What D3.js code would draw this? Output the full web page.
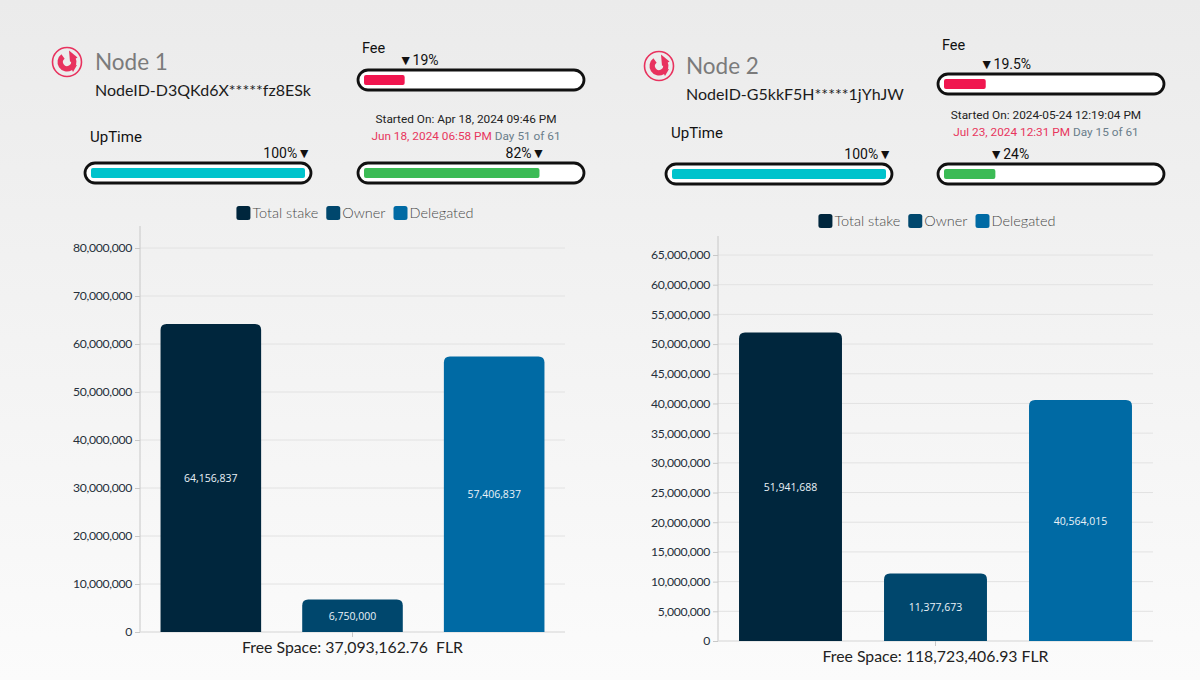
<!DOCTYPE html>
<html><head><meta charset="utf-8">
<script src="https://cdn.jsdelivr.net/npm/d3@7"></script>
<style>
html,body{margin:0;padding:0;background:#f0f0f0;}
svg{display:block;}
text{white-space:pre;}
</style></head>
<body>
<svg id="c" width="1200" height="680"></svg>
<script>
// ---- data ----
const categories = ["Total stake", "Owner", "Delegated"];
const node1Values = [64156837, 6750000, 57406837];
const node2Values = [51941688, 11377673, 40564015];
const node1Ticks = [0,10000000,20000000,30000000,40000000,50000000,60000000,70000000,80000000];
const node2Ticks = [0,5000000,10000000,15000000,20000000,25000000,30000000,35000000,40000000,45000000,50000000,55000000,60000000,65000000];
const nodeNames = ["Node 1", "Node 2"];
const nodeIds = ["NodeID-D3QKd6X*****fz8ESk", "NodeID-G5kkF5H*****1jYhJW"];
const feeValues = [19, 19.5];
const feeLabels = ["19%", "19.5%"];
const uptimeValues = [100, 100];
const progressValues = [82, 24];
const startedOn = ["Started On: Apr 18, 2024 09:46 PM", "Started On: 2024-05-24 12:19:04 PM"];
const endDates = ["Jun 18, 2024 06:58 PM", "Jul 23, 2024 12:31 PM"];
const dayLabels = ["Day 51 of 61", "Day 15 of 61"];
const freeSpace = ["Free Space: 37,093,162.76  FLR", "Free Space: 118,723,406.93 FLR"];
const barColors = ["#00263d", "#00476d", "#006aa4"];

const svg = d3.select("#c");
const defs = svg.append("defs");
const grad = defs.append("linearGradient").attr("id","bg").attr("x1",0).attr("y1",0).attr("x2",0).attr("y2",1);
grad.append("stop").attr("offset","0%").attr("stop-color","#ebebeb");
grad.append("stop").attr("offset","100%").attr("stop-color","#fbfbfb");
svg.append("rect").attr("width",1200).attr("height",680).attr("fill","url(#bg)");

const fmt = d3.format(",");

function topRoundedRect(x, y, w, h, r) {
  r = Math.min(r, h, w/2);
  return `M${x},${y+h}V${y+r}Q${x},${y} ${x+r},${y}H${x+w-r}Q${x+w},${y} ${x+w},${y+r}V${y+h}Z`;
}

function drawLogo(g, cx, cy) {
  const lg = g.append("g").attr("transform", `translate(${cx},${cy})`);
  lg.append("circle").attr("r", 14.5).attr("fill", "none").attr("stroke", "#e8325e").attr("stroke-width", 1.6);
  const arc = d3.arc().innerRadius(4).outerRadius(9.5).startAngle(Math.PI*0.35).endAngle(Math.PI*1.8);
  lg.append("path").attr("d", arc()).attr("fill", "#e8325e");
  lg.append("path").attr("d", "M2,-11.5 L10.5,-4.5 L3,0 Z").attr("fill", "#e8325e");
  lg.append("path").attr("d", "M3,4 L10,3 L6,10 Z").attr("fill", "#e8325e");
}

function drawBar(g, x, y, w, h, pct, color, sx) {
  g.append("rect").attr("x", x).attr("y", y).attr("width", w).attr("height", h)
    .attr("rx", h/2).attr("fill", "#fff").attr("stroke", "#111").attr("stroke-width", 2.8);
  const fw = sx(pct);
  g.append("rect").attr("x", x+6).attr("y", y+5).attr("width", fw).attr("height", h-10)
    .attr("rx", 2).attr("fill", color);
  return fw;
}

function drawNode(i, o) {
  const g = svg.append("g");
  drawLogo(g, o.logoX, o.logoY);
  g.append("text").attr("x", o.nameX).attr("y", o.logoY+8).text(nodeNames[i])
    .attr("font-family", "Lato").attr("font-size", 22.5).attr("fill", "#7b7b7b");
  g.append("text").attr("x", o.nameX).attr("y", o.logoY+34).text(nodeIds[i])
    .attr("font-family", "Lato").attr("font-size", 16).attr("fill", "#1c1c1c");

  // Fee
  const bw = 226, bh = 20;
  const sx = d3.scaleLinear().domain([0,100]).range([0, bw-12]);
  g.append("text").attr("x", o.rx+4).attr("y", o.feeLabelY).text("Fee")
    .attr("font-family", "Roboto").attr("font-size", 14.5).attr("fill", "#111");
  const fw = drawBar(g, o.rx, o.feeBarY, bw, bh, feeValues[i], "#f0164f", sx);
  g.append("text").attr("x", o.rx+6+fw-6).attr("y", o.feeBarY-5).text("▼" + feeLabels[i])
    .attr("font-family", "Roboto").attr("font-size", 14).attr("fill", "#111");

  // Started on
  const cx = o.rx + bw/2 - 5;
  g.append("text").attr("x", cx).attr("y", o.startY).attr("text-anchor", "middle").text(startedOn[i])
    .attr("font-family", "Roboto").attr("font-size", 11.8).attr("fill", "#222");
  const t2 = g.append("text").attr("x", cx).attr("y", o.startY+17).attr("text-anchor", "middle")
    .attr("font-family", "Roboto").attr("font-size", 11.8);
  t2.append("tspan").text(endDates[i] + " ").attr("fill", "#e8365d");
  t2.append("tspan").text(dayLabels[i]).attr("fill", "#6a7d8a");

  // UpTime
  g.append("text").attr("x", o.ux+5).attr("y", o.upLabelY).text("UpTime")
    .attr("font-family", "Roboto").attr("font-size", 15).attr("fill", "#111");
  const uw = drawBar(g, o.ux, o.barsY, bw, bh, uptimeValues[i], "#00c3cc", sx);
  g.append("text").attr("x", o.ux+6+uw+6).attr("y", o.barsY-5).attr("text-anchor", "end").text(uptimeValues[i] + "%▼")
    .attr("font-family", "Roboto").attr("font-size", 14).attr("fill", "#111");

  // Progress
  const pw = drawBar(g, o.rx, o.barsY, bw, bh, progressValues[i], "#3bbb55", sx);
  if (progressValues[i] > 50) {
    g.append("text").attr("x", o.rx+6+pw+6).attr("y", o.barsY-5).attr("text-anchor", "end").text(progressValues[i] + "%▼")
      .attr("font-family", "Roboto").attr("font-size", 14).attr("fill", "#111");
  } else {
    g.append("text").attr("x", o.rx+6+pw-6).attr("y", o.barsY-5).text("▼" + progressValues[i] + "%")
      .attr("font-family", "Roboto").attr("font-size", 14).attr("fill", "#111");
  }

  // Chart
  const values = o.values;
  const y = d3.scaleLinear().domain([0, o.yMax]).range([o.y0, o.yTop]);
  const x = d3.scaleBand().domain(categories).range([o.x0, o.x1]).paddingInner(0.29).paddingOuter(0.145);
  const cg = g.append("g");
  cg.selectAll(".grid").data(o.ticks).enter().append("line")
    .attr("x1", o.x0).attr("x2", o.x1).attr("y1", d=>y(d)).attr("y2", d=>y(d))
    .attr("stroke", "#e2e2e2").attr("stroke-width", 1);
  const ax = cg.append("g").attr("transform", `translate(${o.x0},0)`)
    .call(d3.axisLeft(y).tickValues(o.ticks).tickFormat(d=>fmt(d)).tickSize(5).tickPadding(3));
  ax.select(".domain").remove();
  ax.selectAll(".tick line").attr("stroke", "#c8c8c8");
  ax.selectAll("text").attr("font-family", "Lato").attr("font-size", 12.2).attr("letter-spacing", -0.3).attr("fill", "#26303b");
  cg.append("line").attr("x1", o.x0).attr("x2", o.x0).attr("y1", o.axisTop).attr("y2", o.y0)
    .attr("stroke", "#c8c8c8");
  cg.append("line").attr("x1", o.x0).attr("x2", o.x1).attr("y1", o.y0).attr("y2", o.y0)
    .attr("stroke", "#e0e0e0");
  const mid = (o.x0 + o.x1)/2;
  cg.append("line").attr("x1", mid).attr("x2", mid).attr("y1", o.y0).attr("y2", o.y0+5).attr("stroke", "#c8c8c8");

  cg.selectAll(".bar").data(values).enter().append("path")
    .attr("d", (d,j)=>topRoundedRect(x(categories[j]), y(d), x.bandwidth(), o.y0 - y(d), 6))
    .attr("fill", (d,j)=>barColors[j]);
  cg.selectAll(".lbl").data(values).enter().append("text")
    .attr("x", (d,j)=>x(categories[j]) + x.bandwidth()/2)
    .attr("y", d=>(y(d)+o.y0)/2 + 4)
    .attr("text-anchor", "middle").text(d=>fmt(d))
    .attr("font-family", "Open Sans").attr("font-size", 10.5).attr("fill", "#eaf2f8");

  const lg = cg.append("g");
  let lx = 0;
  categories.forEach((c, j) => {
    const item = lg.append("g").attr("transform", `translate(${lx},0)`);
    item.append("rect").attr("x", 0).attr("y", -7).attr("width", 14).attr("height", 14).attr("rx", 2.5)
      .attr("fill", barColors[j]);
    const t = item.append("text").attr("x", 16).attr("y", 5).text(c)
      .attr("font-family", "Lato").attr("font-weight", 300).attr("font-size", 14.5).attr("fill", "#4a4a4a");
    lx += 16 + t.node().getComputedTextLength() + 8;
  });
  lx -= 8;
  lg.attr("transform", `translate(${o.legendCx - lx/2},${o.legendY})`);

  g.append("text").attr("x", mid).attr("y", o.y0 + 21).attr("text-anchor", "middle").text(freeSpace[i])
    .attr("font-family", "Lato").attr("font-size", 15.8).attr("fill", "#222");
}

drawNode(0, {
  logoX: 67, logoY: 62, nameX: 95,
  rx: 358, feeLabelY: 53, feeBarY: 70, startY: 123, ux: 85, upLabelY: 142, barsY: 163,
  values: node1Values, ticks: node1Ticks, yMax: 80000000,
  x0: 140, x1: 565, y0: 632, yTop: 248, axisTop: 226,
  legendCx: 355, legendY: 213
});
drawNode(1, {
  logoX: 659, logoY: 66, nameX: 686,
  rx: 938, feeLabelY: 50, feeBarY: 74, startY: 119, ux: 666, upLabelY: 138, barsY: 164,
  values: node2Values, ticks: node2Ticks, yMax: 65000000,
  x0: 718, x1: 1153, y0: 641, yTop: 255, axisTop: 236,
  legendCx: 937, legendY: 221
});
</script>
</body></html>
